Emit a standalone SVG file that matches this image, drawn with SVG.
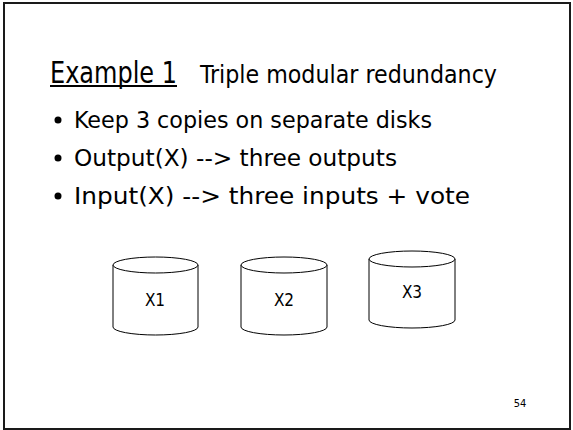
<svg xmlns="http://www.w3.org/2000/svg" width="573" height="430" viewBox="0 0 573 430">
<style>
  text { font-family: "DejaVu Sans Condensed", "DejaVu Sans", Tahoma, Verdana, sans-serif; fill: #000; }
  .title { font-size: 30px; }
  .sub { font-size: 25px; }
  .bullet { font-size: 23px; }
  .lbl { font-size: 17px; text-anchor: middle; }
  .cyl { fill: #fff; stroke: #000; stroke-width: 1; }
</style>
<rect x="0" y="0" width="573" height="430" fill="#fff"/>
<rect x="4" y="3" width="566" height="426" fill="none" stroke="#1a1a1a" stroke-width="2"/>
<g id="title">
  <text class="title" x="50" y="83" textLength="127" lengthAdjust="spacingAndGlyphs">Example 1</text>
  <line x1="50" y1="86" x2="177" y2="86" stroke="#000" stroke-width="2"/>
  <text class="sub" x="200" y="83" textLength="297" lengthAdjust="spacingAndGlyphs">Triple modular redundancy</text>
</g>
<g id="bullets">
  <circle cx="58" cy="120" r="3.5" fill="#000"/>
  <text class="bullet" x="74" y="128" textLength="358" lengthAdjust="spacingAndGlyphs">Keep 3 copies on separate disks</text>
  <circle cx="58" cy="158" r="3.5" fill="#000"/>
  <text class="bullet" x="74" y="166" textLength="323" lengthAdjust="spacingAndGlyphs">Output(X) --&gt; three outputs</text>
  <circle cx="58" cy="196" r="3.5" fill="#000"/>
  <text class="bullet" x="74" y="204" textLength="396" lengthAdjust="spacingAndGlyphs">Input(X) --&gt; three inputs + vote</text>
</g>
<g id="disk-x1">
  <path class="cyl" d="M113,265 V327 A42.5,8 0 0,0 198,327 V265"/>
  <ellipse class="cyl" cx="155.5" cy="265" rx="42.5" ry="8"/>
  <text class="lbl" x="155" y="306">X1</text>
</g>
<g id="disk-x2">
  <path class="cyl" d="M241,265 V327 A43,8 0 0,0 327,327 V265"/>
  <ellipse class="cyl" cx="284" cy="265" rx="43" ry="8"/>
  <text class="lbl" x="284" y="306">X2</text>
</g>
<g id="disk-x3">
  <path class="cyl" d="M369,259 V320 A43,8 0 0,0 455,320 V259"/>
  <ellipse class="cyl" cx="412" cy="259" rx="43" ry="8"/>
  <text class="lbl" x="412" y="298">X3</text>
</g>
<g id="page">
  <text x="520" y="407" font-size="11" text-anchor="middle">54</text>
</g>
</svg>
